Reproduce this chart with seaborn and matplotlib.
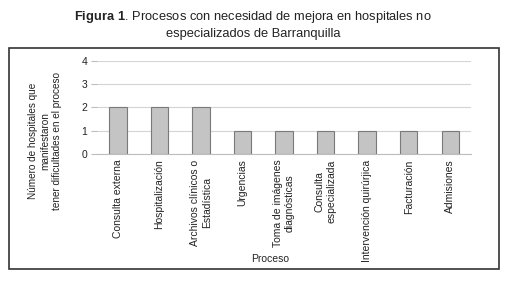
import numpy as np
import pandas as pd
import seaborn as sns
import matplotlib.pyplot as plt
from matplotlib.patches import Rectangle

procesos = ['Consulta externa', 'Hospitalización', 'Archivos clínicos o\nEstadística',
            'Urgencias', 'Toma de imágenes\ndiagnósticas', 'Consulta\nespecializada',
            'Intervención quirúrjica', 'Facturación', 'Admisiones']
hospitales = [2, 2, 2, 1, 1, 1, 1, 1, 1]
y_ticks = [0, 1, 2, 3, 4]

df = pd.DataFrame({'Proceso': procesos, 'Hospitales': hospitales})

sns.set_style('white')
plt.rcParams['font.family'] = ['Liberation Sans', 'DejaVu Sans']
plt.rcParams['mathtext.fontset'] = 'custom'
plt.rcParams['mathtext.bf'] = 'Liberation Sans:bold'
plt.rcParams['mathtext.rm'] = 'Liberation Sans'

fig = plt.figure(figsize=(5.06, 2.82), dpi=100)
ax = fig.add_axes([0.192, 0.454, 0.739, 0.33])

sns.barplot(data=df, x='Proceso', y='Hospitales', color='#c4c4c4',
            edgecolor='#7a7a7a', linewidth=0.8, width=0.42, ax=ax, zorder=3)

ax.set_ylim(0, 4)
ax.set_yticks(y_ticks)
ax.yaxis.grid(True, color='#d4d4d4', linewidth=0.8, zorder=0)
ax.set_axisbelow(True)
for s in ['top', 'right', 'left']:
    ax.spines[s].set_visible(False)
ax.spines['bottom'].set_color('#bdbdbd')
ax.spines['bottom'].set_linewidth(0.8)

ax.tick_params(axis='y', length=4, color='#bdbdbd', labelsize=7.5, labelcolor='#222222', pad=3, left=True)
ax.tick_params(axis='x', length=0, labelsize=7.5, labelcolor='#222222', pad=4)
plt.setp(ax.get_xticklabels(), rotation=90, ha='center', va='top', multialignment='center')

ax.set_ylabel('')
ax.set_xlabel('')
fig.text(270 / 506, 1 - 259 / 282, 'Proceso', ha='center', va='center',
         fontsize=7.5, color='#222222')

fig.text(45 / 506, 1 - 141 / 282,
         'Número de hospitales que\nmanifestaron\ntener dificultades en el proceso',
         rotation=90, ha='center', va='center', multialignment='center',
         fontsize=7.2, color='#222222')

fig.text(0.5, 1 - 17 / 282, r'$\bf{Figura\ 1}$. Procesos con necesidad de mejora en hospitales no',
         ha='center', va='center', fontsize=9.3, color='#222222')
fig.text(0.5, 1 - 34 / 282, 'especializados de Barranquilla',
         ha='center', va='center', fontsize=9.3, color='#222222')

fig.patches.append(Rectangle((9 / 506, 1 - 269 / 282), 490 / 506, 221 / 282,
                             transform=fig.transFigure, fill=False,
                             edgecolor='#333333', linewidth=1.2))

plt.savefig('out.png', dpi=100)
